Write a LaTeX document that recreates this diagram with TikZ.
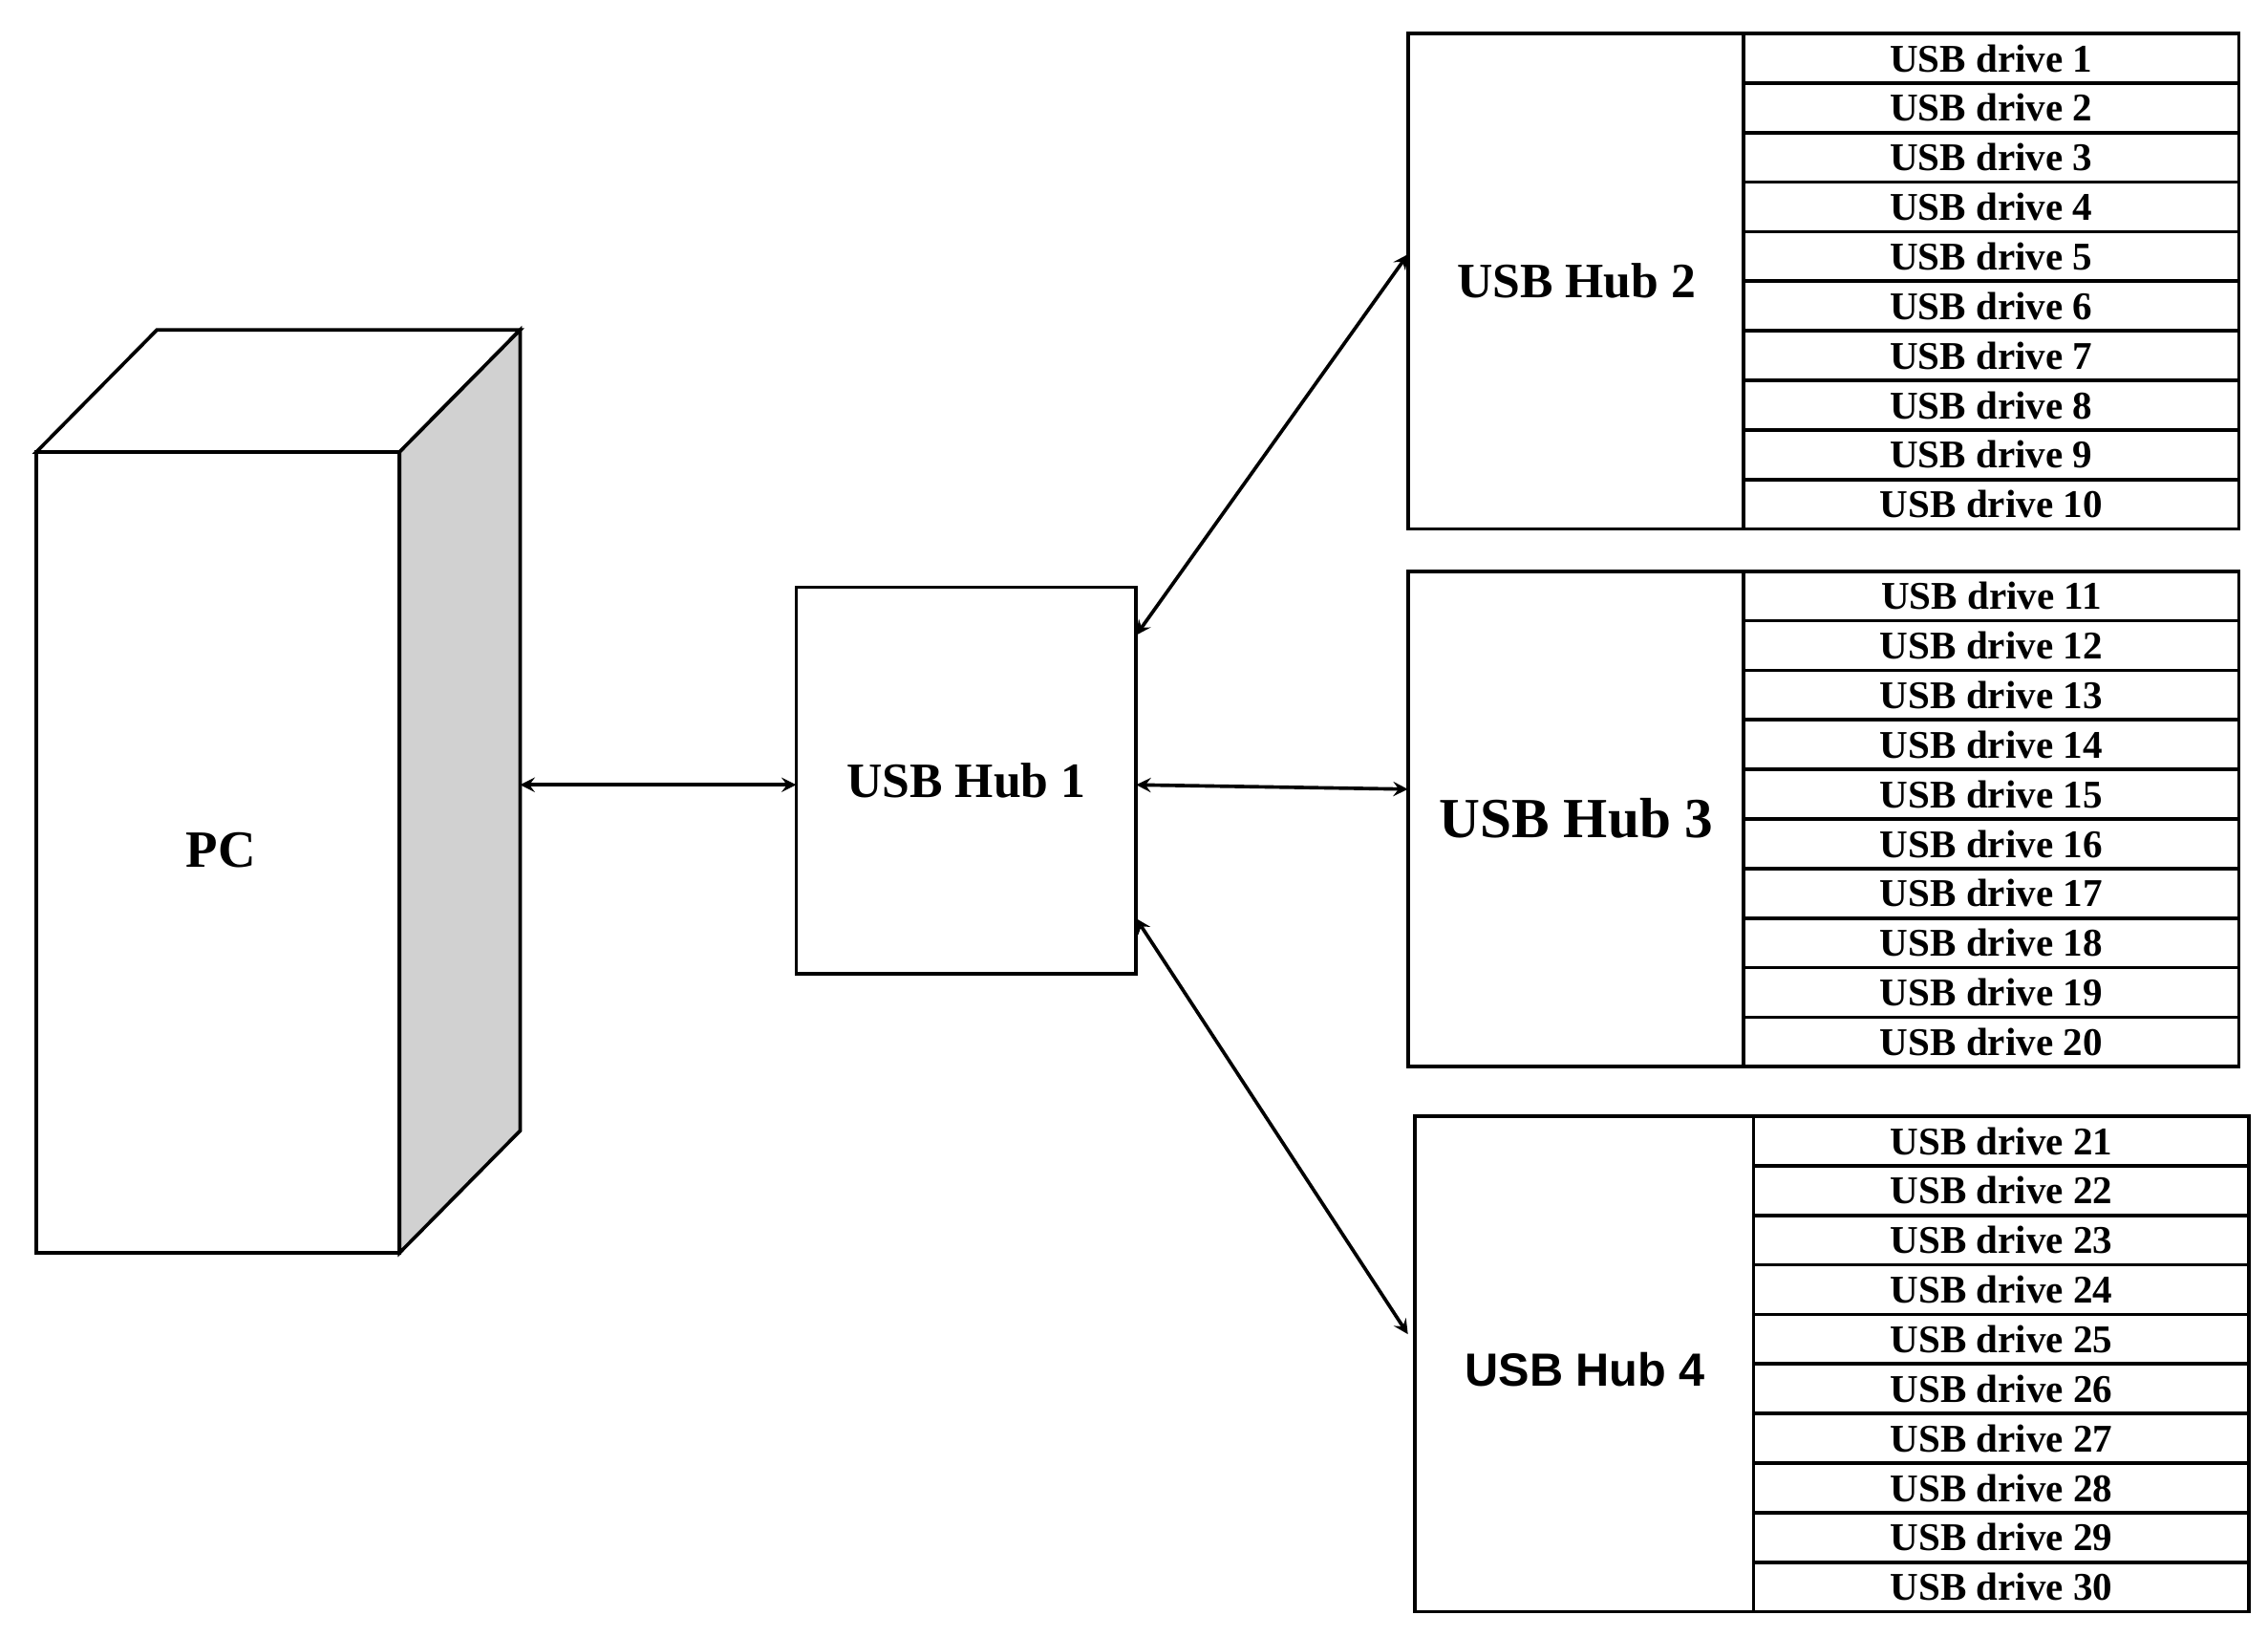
\documentclass[tikz,border=0pt]{standalone}
\usepackage{fontspec}
\setmainfont{Liberation Serif}
\newfontfamily\sansf{Liberation Sans}
\begin{document}
\begin{tikzpicture}[x=0.5pt,y=-0.5pt,
  ln/.style={draw=black,line width=1.2pt},
  arr/.style={line width=1.2pt,<->,>=stealth},
  drv/.style={font=\bfseries\fontsize{13.5}{14}\selectfont},
  hub/.style={font=\bfseries\fontsize{17}{18}\selectfont}]
\useasboundingbox (0,0) rectangle (1561,1126);
% PC
\draw[ln,fill=white] (25,311) -- (108,227) -- (358,227) -- (275,311) -- cycle;
\draw[ln,fill=black!18] (275,311) -- (358,227) -- (358,778) -- (275,862) -- cycle;
\draw[ln,fill=white] (25,311) rectangle (275,862);
\node[font=\bfseries\fontsize{18}{20}\selectfont] (pc) at (152,585) {PC};
\coordinate (pcr) at (358,540);
% Hub1
\draw[ln] (548,404) rectangle (782,670);
\node[hub] (h1) at (665,537) {USB Hub 1};
\coordinate (h1a) at (782,437);
\coordinate (h1b) at (782,540);
\coordinate (h1c) at (782,632);
\coordinate (h1l) at (548,540);
% hub blocks
\foreach \hx/\hy/\hm/\hr/\off/\nm in {969/23/1200/1541/0/2, 969/393/1200/1541/10/3, 974/768/1207/1548/20/4}{
  \draw[ln] (\hx,\hy) rectangle (\hm,\hy+341);
  \draw[ln] (\hm,\hy) rectangle (\hr,\hy+341);
  \foreach \i in {1,...,9}{\draw[ln] (\hm,\hy+34.1*\i) -- (\hr,\hy+34.1*\i);}
  \foreach \i in {1,...,10}{
    \pgfmathtruncatemacro\k{\i+\off}
    \node[drv] at ({(\hm+\hr)/2},{\hy+34.1*\i-17}) {USB drive \k};}
}
\node[hub] (h2) at (1085,193) {USB Hub 2};
\node[font=\bfseries\fontsize{19.5}{20}\selectfont] (h3) at (1085,563) {USB Hub 3};
\node[font=\sansf\bfseries\fontsize{16}{18}\selectfont] (h4) at (1091,942) {USB Hub 4};
\coordinate (h2l) at (969,175);
\coordinate (h3l) at (969,543);
\coordinate (h4l) at (969,918);
\draw[arr] (pcr) -- (h1l);
\draw[arr] (h1a) -- (h2l);
\draw[arr] (h1b) -- (h3l);
\draw[arr] (h1c) -- (h4l);
\end{tikzpicture}
\end{document}
